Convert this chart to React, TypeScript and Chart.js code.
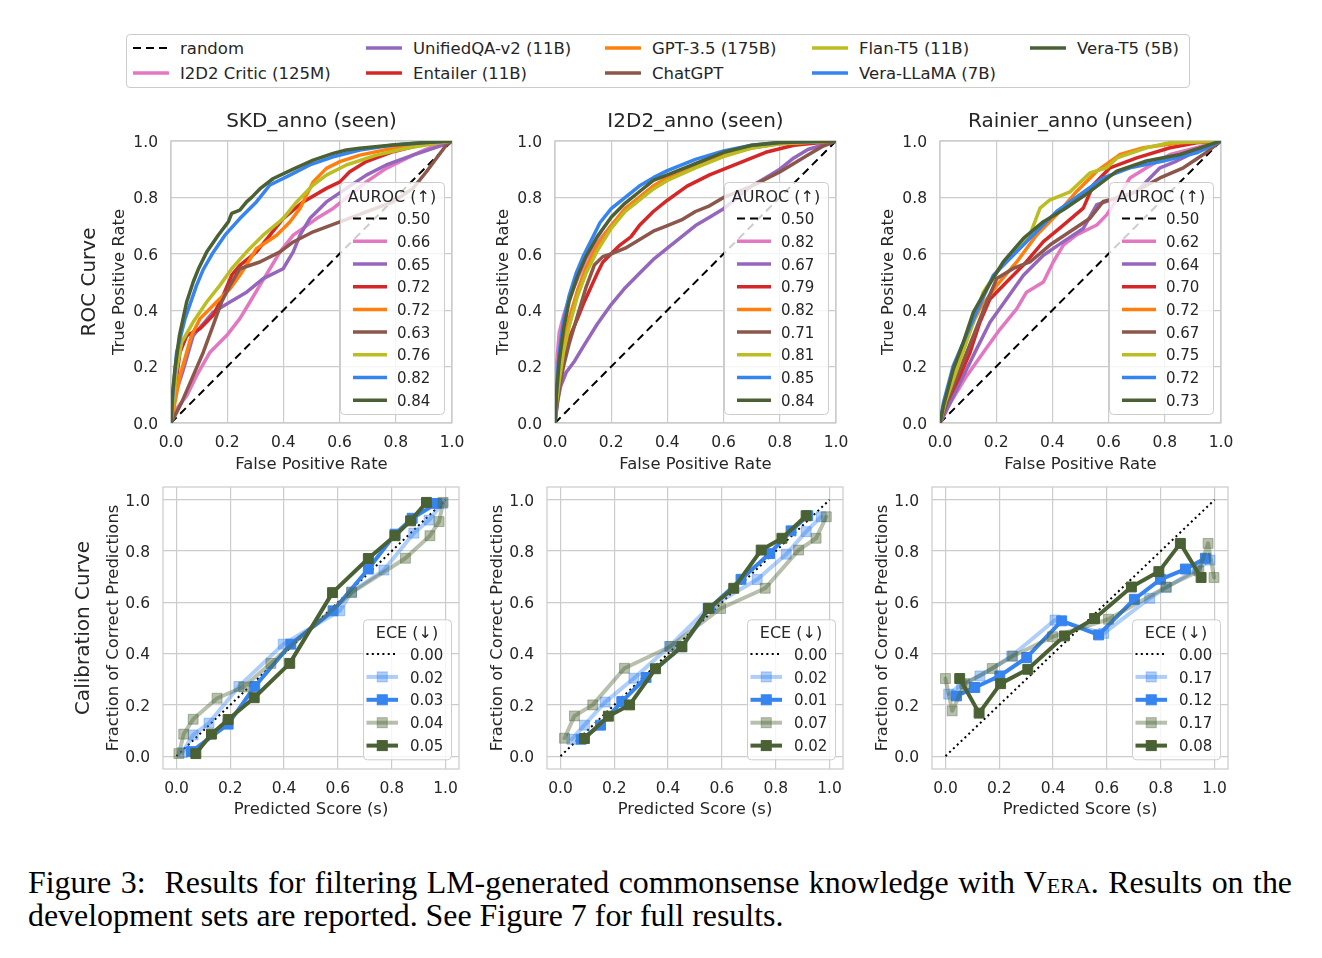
import React, { useEffect, useRef } from 'react';
import { Chart, registerables } from 'chart.js';

Chart.register(...registerables);

const FONT = '"DejaVu Sans", sans-serif';
const TEXT = '#262626';
const GRID = '#cccccc';

// ---------------- legend / model info ----------------
const MODEL_NAMES = [
  'I2D2 Critic (125M)',
  'UnifiedQA-v2 (11B)',
  'Entailer (11B)',
  'GPT-3.5 (175B)',
  'ChatGPT',
  'Flan-T5 (11B)',
  'Vera-LLaMA (7B)',
  'Vera-T5 (5B)',
];
const MODEL_COLORS = ['#e377c2', '#9467bd', '#d62728', '#ff7f0e', '#8c564b', '#bcbd22', '#3684f0', '#4a6133'];
const RANDOM_LABEL = 'random';

const ROC_TICKS = [0, 0.2, 0.4, 0.6, 0.8, 1.0];
const CAL_TICKS = [0, 0.2, 0.4, 0.6, 0.8, 1.0];

const DATASET_TITLES = ['SKD_anno (seen)', 'I2D2_anno (seen)', 'Rainier_anno (unseen)'];

// ---------------- ROC data: [FPR, TPR] ----------------
const RANDOM_LINE = [[0, 0], [1, 1]];

const SKD_I2D2 = [[0, 0], [0.02, 0.05], [0.056, 0.097], [0.091, 0.168], [0.139, 0.251], [0.198, 0.31], [0.245, 0.37], [0.281, 0.429], [0.316, 0.488], [0.352, 0.547], [0.388, 0.607], [0.435, 0.666], [0.518, 0.725], [0.577, 0.761], [0.636, 0.808], [0.695, 0.855], [0.766, 0.903], [0.861, 0.95], [0.944, 0.986], [1, 1]];
const SKD_UQA = [[0, 0], [0.014, 0.097], [0.044, 0.19], [0.079, 0.31], [0.15, 0.393], [0.21, 0.429], [0.269, 0.464], [0.328, 0.512], [0.399, 0.547], [0.435, 0.607], [0.459, 0.666], [0.494, 0.725], [0.553, 0.784], [0.624, 0.832], [0.695, 0.879], [0.766, 0.915], [0.861, 0.95], [0.933, 0.974], [0.98, 0.99], [1, 1]];
const SKD_ENT = [[0, 0], [0.014, 0.12], [0.032, 0.251], [0.056, 0.31], [0.103, 0.334], [0.15, 0.382], [0.186, 0.453], [0.216, 0.524], [0.245, 0.559], [0.304, 0.607], [0.352, 0.666], [0.399, 0.725], [0.47, 0.784], [0.553, 0.832], [0.601, 0.855], [0.636, 0.891], [0.695, 0.927], [0.79, 0.962], [0.885, 0.986], [1, 1]];
const SKD_GPT = [[0, 0], [0.014, 0.073], [0.032, 0.168], [0.056, 0.251], [0.073, 0.31], [0.103, 0.37], [0.162, 0.429], [0.21, 0.476], [0.245, 0.524], [0.275, 0.571], [0.304, 0.618], [0.376, 0.666], [0.423, 0.713], [0.459, 0.761], [0.482, 0.808], [0.506, 0.855], [0.553, 0.903], [0.601, 0.927], [0.672, 0.95], [0.79, 0.974], [0.909, 0.992], [1, 1]];
const SKD_CHAT = [[0, 0], [0.008, 0.014], [0.038, 0.073], [0.079, 0.168], [0.115, 0.251], [0.15, 0.346], [0.18, 0.429], [0.21, 0.488], [0.245, 0.547], [0.316, 0.571], [0.388, 0.607], [0.435, 0.642], [0.506, 0.678], [0.601, 0.713], [0.695, 0.749], [0.79, 0.784], [0.861, 0.832], [0.909, 0.891], [0.944, 0.938], [0.98, 0.986], [1, 1]];
const SKD_FLAN = [[0, 0], [0.008, 0.073], [0.02, 0.19], [0.038, 0.287], [0.079, 0.358], [0.127, 0.429], [0.174, 0.488], [0.216, 0.547], [0.269, 0.607], [0.328, 0.666], [0.399, 0.725], [0.447, 0.784], [0.506, 0.844], [0.553, 0.879], [0.624, 0.915], [0.731, 0.95], [0.838, 0.974], [0.944, 0.992], [1, 1]];
const SKD_VLLAMA = [[0, 0], [0.008, 0.12], [0.02, 0.25], [0.05, 0.37], [0.091, 0.488], [0.115, 0.545], [0.15, 0.605], [0.192, 0.666], [0.245, 0.725], [0.304, 0.784], [0.352, 0.844], [0.423, 0.879], [0.494, 0.915], [0.577, 0.944], [0.672, 0.968], [0.79, 0.986], [0.909, 0.995], [1, 1]];
const SKD_VT5 = [[0, 0], [0.005, 0.1], [0.014, 0.19], [0.03, 0.31], [0.056, 0.43], [0.079, 0.5], [0.097, 0.545], [0.127, 0.606], [0.168, 0.666], [0.204, 0.713], [0.216, 0.743], [0.245, 0.755], [0.269, 0.784], [0.287, 0.8], [0.316, 0.83], [0.364, 0.867], [0.435, 0.9], [0.506, 0.932], [0.577, 0.956], [0.624, 0.968], [0.672, 0.974], [0.79, 0.986], [0.909, 0.995], [1, 1]];

const I2D2_I2D2 = [[0, 0], [0.005, 0.2], [0.015, 0.32], [0.03, 0.38], [0.05, 0.44], [0.08, 0.51], [0.11, 0.58], [0.15, 0.64], [0.2, 0.7], [0.25, 0.76], [0.3, 0.8], [0.35, 0.84], [0.4, 0.87], [0.5, 0.92], [0.6, 0.955], [0.7, 0.98], [0.8, 0.99], [0.9, 0.997], [1, 1]];
const I2D2_UQA = [[0, 0], [0.01, 0.08], [0.02, 0.13], [0.04, 0.18], [0.07, 0.22], [0.1, 0.27], [0.15, 0.35], [0.2, 0.42], [0.25, 0.48], [0.3, 0.53], [0.35, 0.58], [0.4, 0.62], [0.45, 0.66], [0.5, 0.7], [0.55, 0.73], [0.6, 0.76], [0.65, 0.8], [0.7, 0.84], [0.75, 0.87], [0.8, 0.9], [0.85, 0.94], [0.9, 0.97], [1, 1]];
const I2D2_ENT = [[0, 0], [0.005, 0.06], [0.015, 0.13], [0.03, 0.22], [0.05, 0.3], [0.08, 0.37], [0.1, 0.42], [0.15, 0.53], [0.17, 0.57], [0.2, 0.6], [0.23, 0.63], [0.27, 0.66], [0.3, 0.7], [0.35, 0.75], [0.4, 0.79], [0.47, 0.84], [0.55, 0.88], [0.65, 0.92], [0.75, 0.96], [0.85, 0.985], [1, 1]];
const I2D2_GPT = [[0, 0], [0.005, 0.08], [0.015, 0.18], [0.03, 0.28], [0.05, 0.37], [0.08, 0.47], [0.11, 0.55], [0.15, 0.63], [0.2, 0.7], [0.25, 0.76], [0.3, 0.8], [0.35, 0.84], [0.4, 0.87], [0.5, 0.915], [0.6, 0.95], [0.7, 0.975], [0.8, 0.99], [1, 1]];
const I2D2_CHAT = [[0, 0], [0.005, 0.05], [0.015, 0.12], [0.03, 0.2], [0.05, 0.28], [0.08, 0.38], [0.11, 0.48], [0.14, 0.56], [0.17, 0.59], [0.2, 0.6], [0.25, 0.62], [0.3, 0.65], [0.35, 0.68], [0.4, 0.7], [0.45, 0.72], [0.5, 0.75], [0.55, 0.77], [0.6, 0.8], [0.65, 0.82], [0.7, 0.84], [0.8, 0.89], [0.9, 0.95], [0.95, 0.98], [1, 1]];
const I2D2_FLAN = [[0, 0], [0.005, 0.07], [0.015, 0.15], [0.03, 0.25], [0.05, 0.34], [0.08, 0.45], [0.11, 0.53], [0.15, 0.61], [0.2, 0.69], [0.25, 0.75], [0.3, 0.79], [0.35, 0.83], [0.4, 0.86], [0.5, 0.905], [0.6, 0.945], [0.7, 0.975], [0.8, 0.99], [1, 1]];
const I2D2_VLLAMA = [[0, 0], [0.005, 0.12], [0.015, 0.25], [0.03, 0.36], [0.05, 0.45], [0.075, 0.53], [0.1, 0.59], [0.13, 0.65], [0.16, 0.71], [0.2, 0.76], [0.25, 0.8], [0.3, 0.84], [0.35, 0.87], [0.4, 0.895], [0.5, 0.935], [0.6, 0.965], [0.7, 0.985], [0.8, 0.995], [1, 1]];
const I2D2_VT5 = [[0, 0], [0.005, 0.1], [0.015, 0.22], [0.03, 0.33], [0.05, 0.43], [0.08, 0.52], [0.11, 0.59], [0.15, 0.66], [0.2, 0.73], [0.25, 0.78], [0.3, 0.82], [0.35, 0.86], [0.4, 0.88], [0.5, 0.92], [0.6, 0.96], [0.7, 0.985], [0.8, 0.995], [1, 1]];

const RAIN_I2D2 = [[0, 0], [0.036, 0.071], [0.095, 0.167], [0.154, 0.25], [0.214, 0.333], [0.273, 0.405], [0.308, 0.464], [0.368, 0.5], [0.403, 0.571], [0.439, 0.631], [0.486, 0.667], [0.558, 0.702], [0.593, 0.738], [0.641, 0.81], [0.676, 0.869], [0.735, 0.905], [0.819, 0.952], [0.913, 0.976], [1, 1]];
const RAIN_UQA = [[0, 0], [0.036, 0.071], [0.083, 0.167], [0.13, 0.262], [0.178, 0.357], [0.237, 0.44], [0.297, 0.524], [0.368, 0.595], [0.439, 0.643], [0.51, 0.69], [0.558, 0.774], [0.629, 0.798], [0.7, 0.821], [0.783, 0.905], [0.842, 0.929], [0.913, 0.964], [1, 1]];
const RAIN_ENT = [[0, 0], [0.024, 0.071], [0.071, 0.167], [0.107, 0.25], [0.142, 0.357], [0.178, 0.44], [0.237, 0.5], [0.297, 0.56], [0.368, 0.643], [0.439, 0.702], [0.51, 0.762], [0.546, 0.845], [0.605, 0.905], [0.7, 0.94], [0.819, 0.976], [0.913, 0.994], [1, 1]];
const RAIN_GPT = [[0, 0], [0.018, 0.083], [0.059, 0.19], [0.095, 0.31], [0.142, 0.405], [0.202, 0.488], [0.273, 0.571], [0.344, 0.667], [0.415, 0.738], [0.486, 0.821], [0.558, 0.893], [0.641, 0.952], [0.724, 0.976], [0.854, 0.994], [1, 1]];
const RAIN_CHAT = [[0, 0], [0.024, 0.071], [0.071, 0.19], [0.119, 0.31], [0.166, 0.429], [0.202, 0.512], [0.261, 0.548], [0.32, 0.571], [0.391, 0.631], [0.463, 0.679], [0.534, 0.726], [0.581, 0.786], [0.676, 0.81], [0.783, 0.869], [0.866, 0.905], [0.937, 0.952], [1, 1]];
const RAIN_FLAN = [[0, 0], [0.018, 0.071], [0.06, 0.19], [0.119, 0.357], [0.154, 0.464], [0.202, 0.536], [0.26, 0.607], [0.32, 0.667], [0.356, 0.762], [0.39, 0.79], [0.463, 0.82], [0.534, 0.887], [0.593, 0.905], [0.63, 0.94], [0.735, 0.976], [0.818, 0.994], [1, 1]];
const RAIN_VLLAMA = [[0, 0], [0.012, 0.071], [0.047, 0.202], [0.083, 0.286], [0.13, 0.393], [0.19, 0.524], [0.249, 0.583], [0.32, 0.655], [0.415, 0.75], [0.498, 0.81], [0.581, 0.869], [0.676, 0.905], [0.795, 0.929], [0.913, 0.958], [1, 1]];
const RAIN_VT5 = [[0, 0], [0.012, 0.06], [0.047, 0.19], [0.083, 0.286], [0.119, 0.393], [0.166, 0.476], [0.225, 0.571], [0.297, 0.655], [0.368, 0.714], [0.439, 0.756], [0.534, 0.821], [0.629, 0.893], [0.735, 0.929], [0.854, 0.952], [1, 1]];

const SKD_AUROC = ['0.50', '0.66', '0.65', '0.72', '0.72', '0.63', '0.76', '0.82', '0.84'];
const I2D2_AUROC = ['0.50', '0.82', '0.67', '0.79', '0.82', '0.71', '0.81', '0.85', '0.84'];
const RAIN_AUROC = ['0.50', '0.62', '0.64', '0.70', '0.72', '0.67', '0.75', '0.72', '0.73'];

// ---------------- Calibration data: [predicted score, fraction correct] ----------------
const PERFECT_LINE = [[0, 0], [1, 1]];

const CAL_SKD_LLAMA_RAW = [[0.022, 0.014], [0.062, 0.083], [0.121, 0.129], [0.232, 0.272], [0.397, 0.437], [0.607, 0.567], [0.651, 0.641], [0.771, 0.726], [0.882, 0.87], [0.939, 0.921], [0.988, 0.986]];
const CAL_SKD_LLAMA = [[0.056, 0.018], [0.192, 0.125], [0.291, 0.272], [0.425, 0.437], [0.582, 0.567], [0.713, 0.73], [0.812, 0.866], [0.876, 0.928], [0.967, 0.986]];
const CAL_SKD_T5_RAW = [[0.009, 0.01], [0.027, 0.086], [0.062, 0.144], [0.151, 0.226], [0.25, 0.27], [0.351, 0.362], [0.651, 0.638], [0.851, 0.772], [0.942, 0.86], [0.976, 0.915], [0.991, 0.99]];
const CAL_SKD_T5 = [[0.072, 0.01], [0.13, 0.086], [0.192, 0.143], [0.289, 0.228], [0.421, 0.362], [0.58, 0.638], [0.713, 0.771], [0.812, 0.86], [0.87, 0.918], [0.929, 0.99]];

const CAL_I2D2_LLAMA_RAW = [[0.042, 0.066], [0.089, 0.121], [0.166, 0.211], [0.273, 0.304], [0.405, 0.428], [0.548, 0.577], [0.731, 0.689], [0.839, 0.788], [0.913, 0.876], [0.969, 0.934]];
const CAL_I2D2_LLAMA = [[0.077, 0.066], [0.149, 0.121], [0.228, 0.213], [0.318, 0.307], [0.451, 0.427], [0.554, 0.577], [0.671, 0.69], [0.777, 0.79], [0.857, 0.879], [0.919, 0.938]];
const CAL_I2D2_T5_RAW = [[0.015, 0.07], [0.052, 0.157], [0.12, 0.2], [0.238, 0.343], [0.409, 0.428], [0.595, 0.576], [0.761, 0.655], [0.885, 0.804], [0.95, 0.85], [0.988, 0.934]];
const CAL_I2D2_T5 = [[0.089, 0.069], [0.178, 0.156], [0.257, 0.2], [0.353, 0.341], [0.451, 0.427], [0.55, 0.576], [0.644, 0.655], [0.746, 0.804], [0.823, 0.85], [0.913, 0.938]];

const CAL_RAIN_LLAMA_RAW = [[0.012, 0.242], [0.06, 0.28], [0.128, 0.313], [0.246, 0.391], [0.407, 0.531], [0.588, 0.479], [0.759, 0.616], [0.821, 0.658], [0.935, 0.73], [0.983, 0.765]];
const CAL_RAIN_LLAMA = [[0.041, 0.235], [0.109, 0.268], [0.202, 0.313], [0.302, 0.385], [0.432, 0.528], [0.569, 0.473], [0.702, 0.612], [0.799, 0.69], [0.892, 0.73], [0.966, 0.772]];
const CAL_RAIN_T5_RAW = [[0, 0.303], [0.025, 0.177], [0.072, 0.283], [0.174, 0.342], [0.25, 0.39], [0.398, 0.466], [0.606, 0.534], [0.82, 0.66], [0.942, 0.723], [0.976, 0.83], [0.998, 0.697]];
const CAL_RAIN_T5 = [[0.053, 0.303], [0.125, 0.168], [0.205, 0.283], [0.306, 0.339], [0.442, 0.469], [0.554, 0.537], [0.691, 0.66], [0.793, 0.72], [0.873, 0.83], [0.95, 0.697]];

const SKD_ECE = ['0.00', '0.02', '0.03', '0.04', '0.05'];
const I2D2_ECE = ['0.00', '0.02', '0.01', '0.07', '0.02'];
const RAIN_ECE = ['0.00', '0.17', '0.12', '0.17', '0.08'];

const CAL_STYLES = [
  { color: '#000000', width: 2, dash: [2, 3.3], marker: false },
  { color: 'rgba(54,132,240,0.4)', width: 4, marker: true },
  { color: '#3684f0', width: 4, marker: true },
  { color: 'rgba(74,98,51,0.4)', width: 4, marker: true },
  { color: '#4a6133', width: 4, marker: true },
];

// ---------------- panel configuration ----------------
type Series = { data: number[][]; color: string; width: number; dash?: number[]; marker?: boolean; value: string };
type Panel = {
  kind: 'roc' | 'cal';
  left: number; top: number; width: number; height: number;
  title?: string; xTitle: string; yTitle: string; rowLabel?: string;
  series: Series[];
};

const ROC_LEFTS = [171, 555, 940];
const CAL_LEFTS = [163, 547, 932];

function rocPanel(i: number, curves: number[][][], auroc: string[]): Panel {
  const series: Series[] = [{ data: RANDOM_LINE, color: '#000000', width: 2, dash: [8, 5], value: auroc[0] }];
  curves.forEach((c, k) => series.push({ data: c, color: MODEL_COLORS[k], width: 3.5, value: auroc[k + 1] }));
  return {
    kind: 'roc', left: ROC_LEFTS[i], top: 141, width: 281, height: 282,
    title: DATASET_TITLES[i], xTitle: 'False Positive Rate', yTitle: 'True Positive Rate',
    rowLabel: i === 0 ? 'ROC Curve' : undefined, series,
  };
}

function calPanel(i: number, curves: number[][][], ece: string[]): Panel {
  const all = [PERFECT_LINE, ...curves];
  const series: Series[] = all.map((c, k) => ({ data: c, ...CAL_STYLES[k], value: ece[k] }));
  return {
    kind: 'cal', left: CAL_LEFTS[i], top: 487, width: 296, height: 282,
    xTitle: 'Predicted Score (s)', yTitle: 'Fraction of Correct Predictions',
    rowLabel: i === 0 ? 'Calibration Curve' : undefined, series,
  };
}

const PANELS: Panel[] = [
  rocPanel(0, [SKD_I2D2, SKD_UQA, SKD_ENT, SKD_GPT, SKD_CHAT, SKD_FLAN, SKD_VLLAMA, SKD_VT5], SKD_AUROC),
  rocPanel(1, [I2D2_I2D2, I2D2_UQA, I2D2_ENT, I2D2_GPT, I2D2_CHAT, I2D2_FLAN, I2D2_VLLAMA, I2D2_VT5], I2D2_AUROC),
  rocPanel(2, [RAIN_I2D2, RAIN_UQA, RAIN_ENT, RAIN_GPT, RAIN_CHAT, RAIN_FLAN, RAIN_VLLAMA, RAIN_VT5], RAIN_AUROC),
  calPanel(0, [CAL_SKD_LLAMA_RAW, CAL_SKD_LLAMA, CAL_SKD_T5_RAW, CAL_SKD_T5], SKD_ECE),
  calPanel(1, [CAL_I2D2_LLAMA_RAW, CAL_I2D2_LLAMA, CAL_I2D2_T5_RAW, CAL_I2D2_T5], I2D2_ECE),
  calPanel(2, [CAL_RAIN_LLAMA_RAW, CAL_RAIN_LLAMA, CAL_RAIN_T5_RAW, CAL_RAIN_T5], RAIN_ECE),
];

// ---------------- drawing helpers ----------------
const PAD_L = 135, PAD_T = 45, PAD_R = 25, PAD_B = 60, YW = 60, XH = 30;
const TEXT_SHIFT = 1.8;

function drawText(ctx: CanvasRenderingContext2D, s: string, x: number, y: number, size: number, align: CanvasTextAlign = 'center', rot = 0) {
  ctx.save();
  ctx.translate(x, y);
  ctx.rotate(rot);
  ctx.font = `${size}px ${FONT}`;
  ctx.fillStyle = TEXT;
  ctx.textAlign = align;
  ctx.textBaseline = 'middle';
  ctx.fillText(s, 0, TEXT_SHIFT);
  ctx.restore();
}

function drawBox(ctx: CanvasRenderingContext2D, x: number, y: number, w: number, h: number) {
  ctx.save();
  ctx.beginPath();
  (ctx as any).roundRect(x + 0.5, y + 0.5, w, h, 4);
  ctx.fillStyle = 'rgba(255,255,255,0.8)';
  ctx.fill();
  ctx.strokeStyle = '#cccccc';
  ctx.lineWidth = 1;
  ctx.stroke();
  ctx.restore();
}

function drawSample(ctx: CanvasRenderingContext2D, s: Series, x0: number, x1: number, y: number) {
  ctx.save();
  ctx.strokeStyle = s.color;
  ctx.lineWidth = s.width;
  ctx.setLineDash(s.dash || []);
  ctx.beginPath();
  ctx.moveTo(x0, y);
  ctx.lineTo(x1, y);
  ctx.stroke();
  if (s.marker) {
    const m = 10;
    const cx = (x0 + x1) / 2;
    ctx.setLineDash([]);
    ctx.fillStyle = s.color;
    ctx.fillRect(cx - m / 2, y - m / 2, m, m);
    ctx.lineWidth = 1;
    ctx.strokeRect(cx - m / 2, y - m / 2, m, m);
  }
  ctx.restore();
}

function makeOverlay(p: Panel) {
  return {
    id: 'overlay',
    beforeDatasetsDraw(chart: any) {
      const { ctx, chartArea: a } = chart;
      ctx.save();
      ctx.strokeStyle = GRID;
      ctx.lineWidth = 1.25;
      ctx.strokeRect(a.left, a.top, a.right - a.left, a.bottom - a.top);
      ctx.restore();
    },
    afterDraw(chart: any) {
      const { ctx, chartArea: a } = chart;
      const midX = (a.left + a.right) / 2;
      const midY = (a.top + a.bottom) / 2;
      if (p.title) drawText(ctx, p.title, midX, a.top - 21, 20);
      drawText(ctx, p.xTitle, midX, a.bottom + (p.kind === 'roc' ? 40 : 39), 16.4);
      drawText(ctx, p.yTitle, a.left - (p.kind === 'roc' ? 53 : 51.5), midY, 16.4, 'center', -Math.PI / 2);
      if (p.rowLabel) drawText(ctx, p.rowLabel, a.left - (p.kind === 'roc' ? 83 : 81.5), midY, 20, 'center', -Math.PI / 2);

      if (p.kind === 'roc') {
        const w = 104, h = 232;
        const x = a.right - 8 - w, y = a.top + 41;
        drawBox(ctx, x, y, w, h);
        drawText(ctx, 'AUROC (↑)', x + w / 2, y + 14, 16);
        p.series.forEach((s, i) => {
          const cy = y + 36.6 + i * 22.7;
          drawSample(ctx, s, x + 13, x + 47, cy);
          drawText(ctx, s.value, x + 57, cy, 15, 'left');
        });
      } else {
        const w = 88, h = 140;
        const x = a.right - 8 - w, y = a.bottom - 9.7 - h;
        drawBox(ctx, x, y, w, h);
        drawText(ctx, 'ECE (↓)', x + w / 2, y + 13, 16);
        p.series.forEach((s, i) => {
          const cy = y + 34.7 + i * 22.9;
          drawSample(ctx, s, x + 3.5, x + 35, cy);
          drawText(ctx, s.value, x + 47, cy, 15, 'left');
        });
      }
    },
  };
}

function SubPlot({ p }: { p: Panel }) {
  const ref = useRef<HTMLCanvasElement>(null);
  const cw = p.width + PAD_L + PAD_R;
  const ch = p.height + PAD_T + PAD_B;
  useEffect(() => {
    const canvas = ref.current;
    if (!canvas) return;
    const isRoc = p.kind === 'roc';
    const min = isRoc ? 0 : -0.05;
    const max = isRoc ? 1 : 1.05;
    const ticks = isRoc ? ROC_TICKS : CAL_TICKS;
    const tickFont = { family: FONT, size: 15.5 };
    const n = p.series.length;
    const chart = new Chart(canvas, {
      type: 'line',
      data: {
        datasets: p.series.map((s, i) => ({
          data: s.data.map(([x, y]) => ({ x, y })),
          borderColor: s.color,
          backgroundColor: s.color,
          borderWidth: s.width,
          borderDash: s.dash || [],
          borderJoinStyle: 'round',
          borderCapStyle: s.dash ? 'butt' : 'round',
          pointRadius: s.marker ? 7 : 0,
          pointStyle: 'rect',
          pointBackgroundColor: s.color,
          pointBorderColor: s.color,
          pointBorderWidth: 1,
          tension: 0,
          fill: false,
          order: n - i,
        })) as any,
      },
      options: {
        responsive: false,
        animation: false,
        devicePixelRatio: 1,
        events: [],
        layout: { padding: { left: PAD_L - YW, top: PAD_T, right: PAD_R, bottom: PAD_B - XH } },
        plugins: { legend: { display: false }, tooltip: { enabled: false }, title: { display: false } },
        scales: {
          x: {
            type: 'linear', min, max,
            afterBuildTicks: (sc: any) => { sc.ticks = ticks.map((v) => ({ value: v })); },
            afterFit: (sc: any) => { sc.height = XH; },
            grid: { color: GRID, lineWidth: 1.2, drawTicks: false },
            border: { display: false },
            ticks: { font: tickFont, color: TEXT, padding: 11, maxRotation: 0, autoSkip: false, callback: (v: any) => Number(v).toFixed(1) },
          },
          y: {
            type: 'linear', min, max,
            afterBuildTicks: (sc: any) => { sc.ticks = ticks.map((v) => ({ value: v })); },
            afterFit: (sc: any) => { sc.width = YW; },
            grid: { color: GRID, lineWidth: 1.2, drawTicks: false },
            border: { display: false },
            ticks: { font: tickFont, color: TEXT, padding: 13, labelOffset: 1.8, autoSkip: false, callback: (v: any) => Number(v).toFixed(1) },
          },
        },
      } as any,
      plugins: [makeOverlay(p)],
    });
    return () => chart.destroy();
  }, [p]);
  return (
    <div style={{ position: 'absolute', left: p.left - PAD_L, top: p.top - PAD_T, width: cw, height: ch }}>
      <canvas ref={ref} width={cw} height={ch} style={{ width: cw, height: ch, display: 'block' }} />
    </div>
  );
}

// ---------------- top legend ----------------
const LEGEND_COL_X = [133, 366, 605, 812, 1030];
const LEGEND_ROW_Y = [48, 73];

function TopLegend() {
  const entries = [
    { label: RANDOM_LABEL, color: '#000000', dash: true },
    ...MODEL_NAMES.map((m, i) => ({ label: m, color: MODEL_COLORS[i], dash: false })),
  ];
  return (
    <>
      <div style={{ position: 'absolute', left: 126, top: 34, width: 1064, height: 54, boxSizing: 'border-box', border: '1px solid #cccccc', borderRadius: 4, background: '#fff' }} />
      {entries.map((e, k) => {
        const x = LEGEND_COL_X[Math.floor(k / 2)];
        const y = LEGEND_ROW_Y[k % 2];
        return (
          <React.Fragment key={e.label}>
            <svg style={{ position: 'absolute', left: x, top: y - 4 }} width={36} height={8}>
              <line x1={0} y1={4} x2={35} y2={4} stroke={e.color} strokeWidth={e.dash ? 2 : 3.5} strokeDasharray={e.dash ? '8 5' : undefined} strokeLinecap={e.dash ? 'butt' : 'round'} />
            </svg>
            <div style={{ position: 'absolute', left: x + 47, top: y - 9, height: 20, lineHeight: '20px', fontFamily: FONT, fontSize: 16.5, color: TEXT, whiteSpace: 'nowrap' }}>{e.label}</div>
          </React.Fragment>
        );
      })}
    </>
  );
}

function Caption() {
  const st: React.CSSProperties = { fontFamily: '"Liberation Serif", "Times New Roman", serif', fontSize: 31.9, lineHeight: '33px', color: '#000', whiteSpace: 'nowrap' };
  return (
    <div style={{ position: 'absolute', left: 28, top: 866, width: 1264 }}>
      <div style={{ ...st, textAlign: 'justify', textAlignLast: 'justify' as any }}>
        Figure 3:&nbsp; Results for filtering LM-generated commonsense knowledge with V<span style={{ fontVariant: 'small-caps' }}>era</span>. Results on the
      </div>
      <div style={st}>development sets are reported. See Figure 7 for full results.</div>
    </div>
  );
}

export default function App() {
  return (
    <div style={{ position: 'absolute', left: 0, top: 0, width: 1322, height: 958, background: '#ffffff', overflow: 'hidden' }}>
      <TopLegend />
      {PANELS.map((p, i) => <SubPlot key={i} p={p} />)}
      <Caption />
    </div>
  );
}
